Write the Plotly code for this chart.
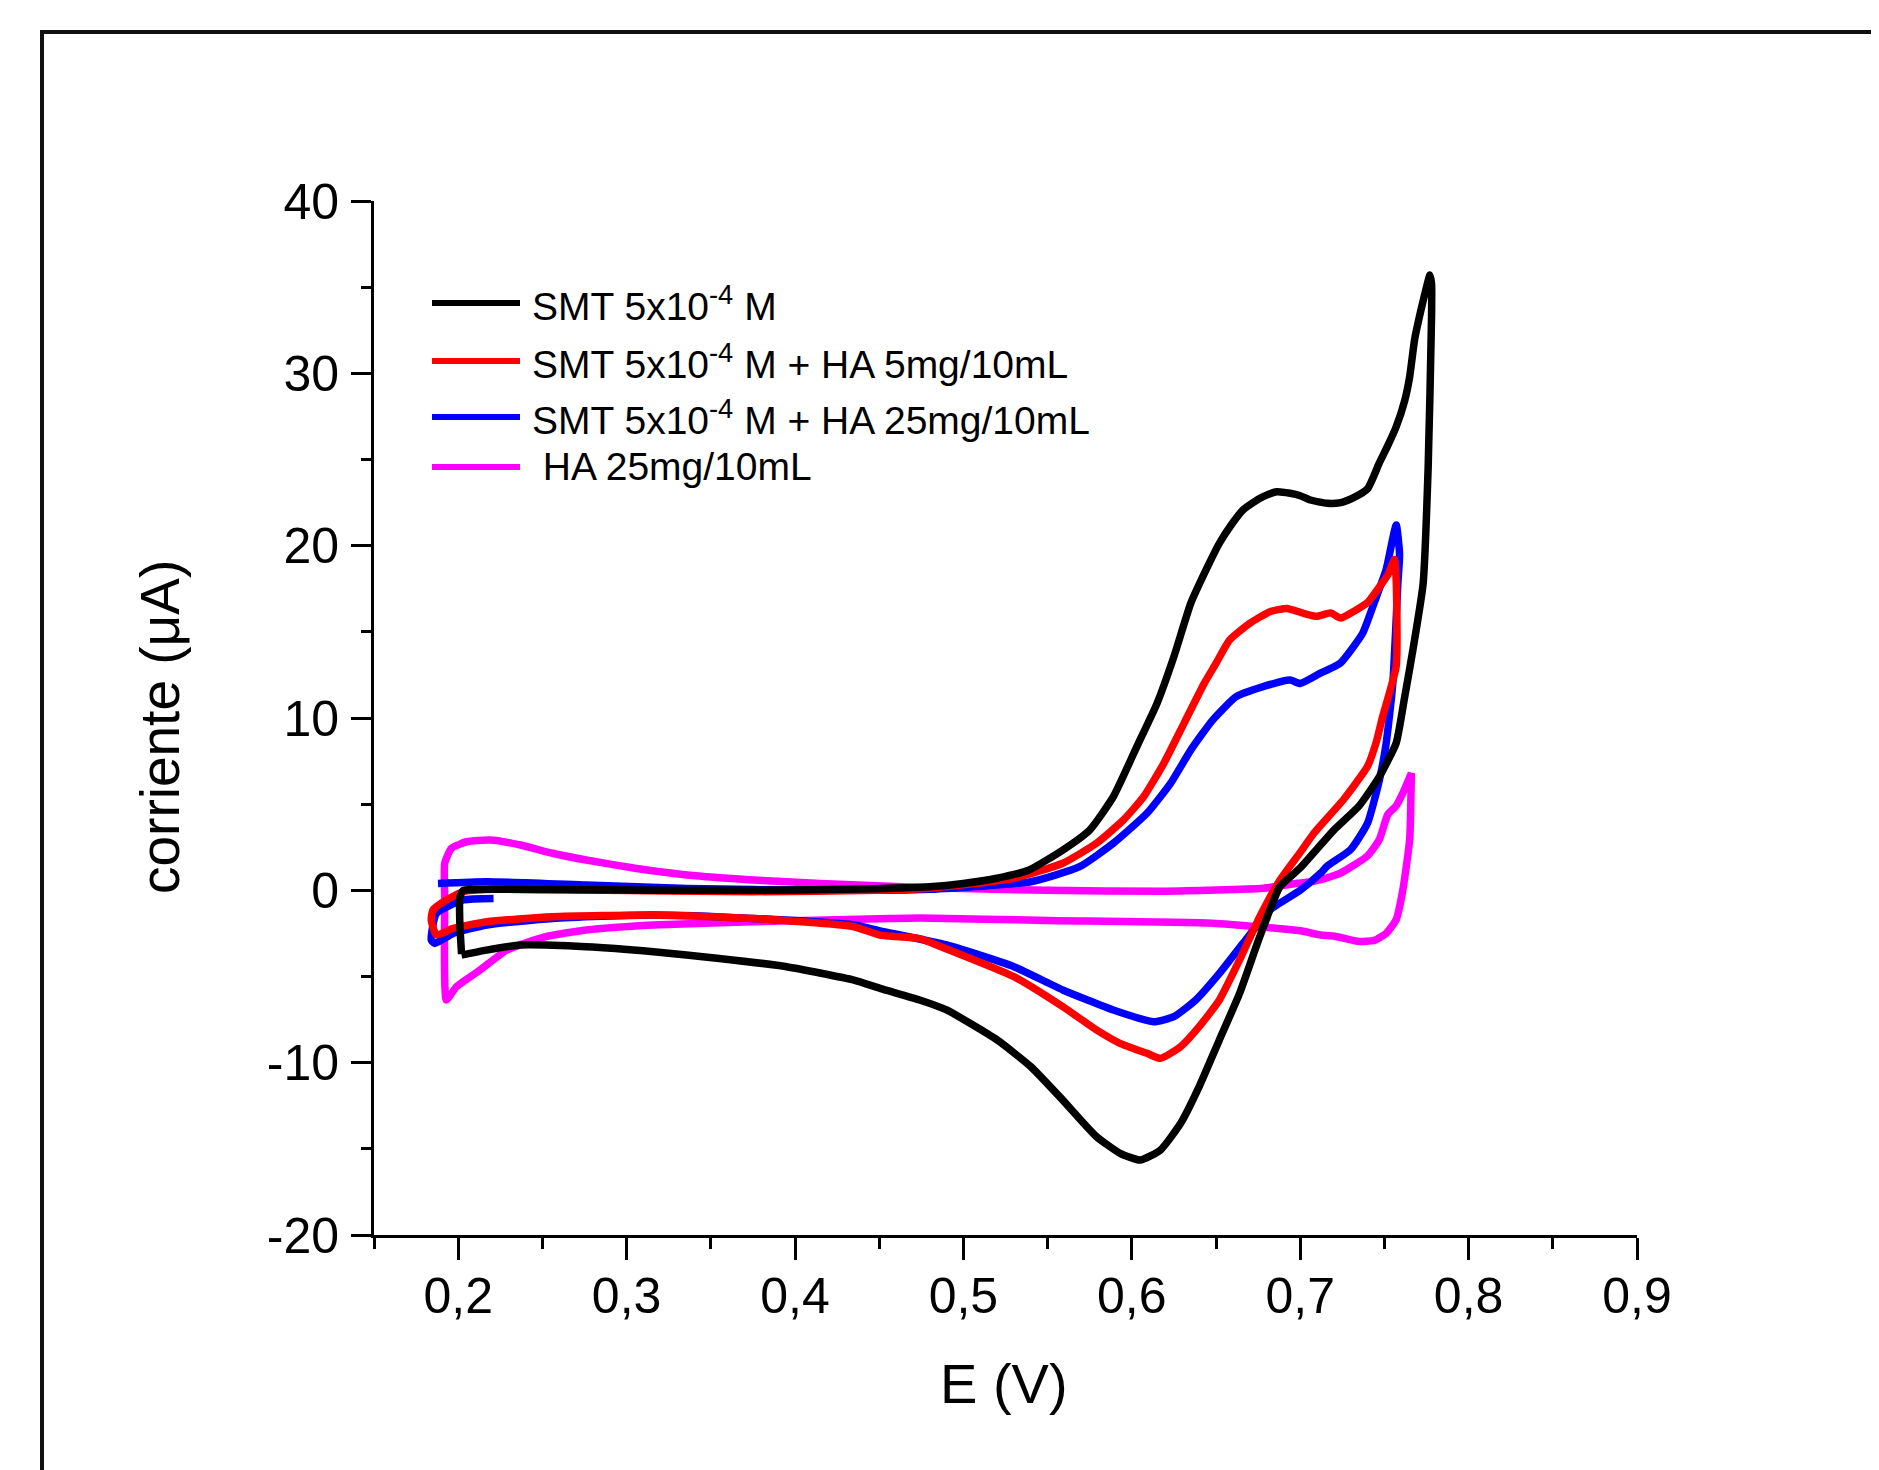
import plotly.graph_objects as go

# ---------------- data ----------------
# SMT 5x10^-4 M  (black)
smt_fwd_E = [0.202, 0.201, 0.201, 0.203, 0.21, 0.25, 0.30, 0.35, 0.40, 0.44, 0.48, 0.50, 0.52, 0.539,
             0.559, 0.575, 0.589, 0.603, 0.615, 0.625, 0.635, 0.645, 0.652, 0.659, 0.666, 0.672, 0.678,
             0.686, 0.694, 0.700, 0.706, 0.716, 0.724, 0.732, 0.740, 0.747, 0.752, 0.757, 0.762, 0.765,
             0.768, 0.772, 0.775, 0.777]
smt_fwd_I = [-3.7, -2.0, -0.4, 0.0, 0.05, 0.05, 0.02, 0.0, 0.02, 0.08, 0.21, 0.4, 0.7, 1.18,
             2.34, 3.5, 5.43, 8.34, 10.85, 13.56, 16.65, 18.78, 20.14, 21.2, 22.07, 22.5, 22.84,
             23.13, 23.04, 22.9, 22.65, 22.46, 22.5, 22.8, 23.3, 24.8, 25.8, 26.9, 28.4, 29.8,
             32.0, 33.8, 35.0, 35.7]
smt_rev_E = [0.778, 0.778, 0.776, 0.773, 0.767, 0.762, 0.757, 0.747, 0.735, 0.720, 0.710, 0.700,
             0.688, 0.676, 0.664, 0.652, 0.640, 0.629, 0.617, 0.605, 0.593, 0.579, 0.559, 0.540,
             0.520, 0.490, 0.474, 0.4505, 0.435, 0.395, 0.355, 0.316, 0.276, 0.237, 0.215, 0.205, 0.202]
smt_rev_I = [35.2, 33.3, 24.6, 17.8, 14.0, 11.2, 8.55, 6.6, 4.9, 3.5, 2.4, 1.3,
             0.21, -2.69, -5.98, -8.68, -11.39, -13.52, -15.07, -15.65, -15.26, -14.29, -12.17, -10.23,
             -8.68, -6.94, -6.36, -5.69, -5.21, -4.43, -3.95, -3.56, -3.27, -3.17, -3.5, -3.7, -3.75]

# SMT 5x10^-4 M + HA 5mg/10mL  (red)
ha5_fwd_E = [0.184, 0.185, 0.193, 0.203, 0.217, 0.276, 0.375, 0.45, 0.480, 0.530, 0.559, 0.579, 0.595,
             0.607, 0.619, 0.631, 0.643, 0.650, 0.658, 0.670, 0.682, 0.692, 0.702, 0.710, 0.718, 0.724,
             0.732, 0.740, 0.747, 0.752, 0.756]
ha5_fwd_I = [-1.72, -1.14, -0.56, -0.08, 0.06, 0.02, -0.08, 0.0, 0.12, 0.70, 1.57, 2.73, 4.08,
             5.43, 7.37, 9.69, 12.01, 13.17, 14.52, 15.49, 16.17, 16.36, 16.07, 15.9, 16.1, 15.8,
             16.2, 16.7, 17.6, 18.3, 19.2]
ha5_rev_E = [0.757, 0.757, 0.749, 0.745, 0.740, 0.726, 0.708, 0.700, 0.688, 0.676, 0.664, 0.652, 0.640,
             0.629, 0.617, 0.609, 0.593, 0.579, 0.559, 0.530, 0.490, 0.474, 0.4505, 0.435, 0.375, 0.316,
             0.256, 0.217, 0.197, 0.187, 0.184]
ha5_rev_I = [18.0, 13.0, 10.1, 8.55, 7.2, 5.3, 3.3, 2.2, 0.6, -1.53, -4.04, -6.36, -7.91,
             -9.07, -9.75, -9.46, -8.88, -8.10, -6.75, -5.01, -3.4, -2.8, -2.6, -2.11, -1.63, -1.43,
             -1.53, -1.82, -2.21, -2.59, -1.72]

# SMT 5x10^-4 M + HA 25mg/10mL  (blue)
ha25_fwd_E = [0.188, 0.217, 0.276, 0.336, 0.415, 0.480, 0.540, 0.569, 0.589, 0.609, 0.623, 0.635, 0.648,
              0.662, 0.678, 0.694, 0.700, 0.712, 0.716, 0.724, 0.737, 0.744, 0.751, 0.757]
ha25_fwd_I = [0.4, 0.5, 0.31, 0.11, 0.0, 0.06, 0.50, 1.37, 2.73, 4.47, 6.21, 8.14, 9.88,
              11.24, 11.82, 12.2, 12.0, 12.6, 12.78, 13.2, 14.9, 16.7, 18.6, 21.2]
ha25_rev_E = [0.759, 0.758, 0.755, 0.751, 0.747, 0.740, 0.730, 0.716, 0.712, 0.700, 0.682, 0.666, 0.652,
              0.638, 0.625, 0.613, 0.589, 0.559, 0.530, 0.490, 0.4505, 0.435, 0.375, 0.316, 0.256,
              0.217, 0.197, 0.186, 0.184, 0.187, 0.203, 0.221]
ha25_rev_I = [19.5, 17.8, 12.0, 8.5, 6.4, 3.9, 2.37, 1.4, 0.99, 0.0, -1.14, -3.08, -4.82,
              -6.36, -7.33, -7.62, -6.94, -5.78, -4.43, -3.17, -2.35, -2.01, -1.63, -1.43, -1.63,
              -2.01, -2.50, -3.08, -2.88, -1.34, -0.56, -0.47]

# HA 25mg/10mL  (magenta)
ha_fwd_E = [0.193, 0.192, 0.192, 0.196, 0.205, 0.219, 0.237, 0.256, 0.276, 0.306, 0.336, 0.375, 0.415,
            0.474, 0.55, 0.62, 0.678, 0.698, 0.708, 0.718, 0.724, 0.740, 0.747, 0.752, 0.757, 0.761, 0.766]
ha_fwd_I = [-6.36, -0.37, 1.57, 2.44, 2.82, 2.92, 2.63, 2.15, 1.76, 1.27, 0.89, 0.60, 0.40,
            0.17, 0.0, -0.05, 0.12, 0.41, 0.52, 0.79, 1.0, 2.0, 2.95, 4.4, 4.9, 5.65, 6.8]
ha_rev_E = [0.766, 0.765, 0.761, 0.757, 0.751, 0.744, 0.734, 0.720, 0.712, 0.700, 0.648, 0.55, 0.474,
            0.45, 0.375, 0.316, 0.276, 0.252, 0.229, 0.213, 0.199, 0.193]
ha_rev_I = [6.8, 2.95, 0.05, -1.7, -2.5, -2.9, -2.96, -2.65, -2.59, -2.35, -1.91, -1.75, -1.6,
            -1.65, -1.82, -2.01, -2.30, -2.69, -3.46, -4.62, -5.59, -6.36]

series_names = ["SMT 5x10<sup>-4</sup> M",
                "SMT 5x10<sup>-4</sup> M + HA 5mg/10mL",
                "SMT 5x10<sup>-4</sup> M + HA 25mg/10mL",
                "\u00a0HA 25mg/10mL"]
series_colors = ["#000000", "#ff0000", "#0000ff", "#ff00ff"]

x_tickvals = [0.2, 0.3, 0.4, 0.5, 0.6, 0.7, 0.8, 0.9]
x_ticktext = ["0,2", "0,3", "0,4", "0,5", "0,6", "0,7", "0,8", "0,9"]
y_tickvals = [-20, -10, 0, 10, 20, 30, 40]
y_ticktext = ["-20", "-10", "0", "10", "20", "30", "40"]

series_E = [smt_fwd_E + smt_rev_E, ha5_fwd_E + ha5_rev_E, ha25_fwd_E + ha25_rev_E, ha_fwd_E + ha_rev_E]
series_I = [smt_fwd_I + smt_rev_I, ha5_fwd_I + ha5_rev_I, ha25_fwd_I + ha25_rev_I, ha_fwd_I + ha_rev_I]

# ---------------- figure ----------------
OFF = 8                       # page body margin of the html page
W, H = 1879, 1470
L, T = 374 - OFF, 201 - OFF   # plot area corners as seen on the page
pw, ph = 1263, 1034
R, B = W - L - pw, H - T - ph


def px_x(p):                  # page pixel -> paper x
    return (p - OFF - L) / pw


def px_y(p):                  # page pixel -> paper y
    return (T + ph - (p - OFF)) / ph


FONT = "Liberation Sans, Arial, sans-serif"

fig = go.Figure()
for E, I, c in reversed(list(zip(series_E, series_I, series_colors))):
    fig.add_trace(go.Scatter(x=E, y=I, mode="lines",
                             line=dict(color=c, width=7.5, shape="spline", smoothing=0.5),
                             showlegend=False, hoverinfo="skip"))

shapes = []
annotations = []
# outer frame (top and left edge visible)
shapes.append(dict(type="line", xref="paper", yref="paper", x0=px_x(40), x1=px_x(W + 20),
                   y0=px_y(32), y1=px_y(32), line=dict(color="#111111", width=4)))
shapes.append(dict(type="line", xref="paper", yref="paper", x0=px_x(42), x1=px_x(42),
                   y0=px_y(30), y1=px_y(H + 20), line=dict(color="#111111", width=4)))

# manual legend
legend_rows = [303, 361, 417, 467]
for name, col, ry in zip(series_names, series_colors, legend_rows):
    shapes.append(dict(type="line", xref="paper", yref="paper", x0=px_x(432), x1=px_x(520),
                       y0=px_y(ry), y1=px_y(ry), line=dict(color=col, width=6)))
    annotations.append(dict(xref="paper", yref="paper", x=px_x(530), y=px_y(ry), text=name,
                            showarrow=False, xanchor="left", yanchor="middle",
                            font=dict(family=FONT, size=39, color="black")))

# axis titles
annotations.append(dict(xref="paper", yref="paper", x=px_x(1004), y=px_y(1383), text="E (V)",
                        showarrow=False, xanchor="center", yanchor="middle",
                        font=dict(family=FONT, size=56, color="black")))
annotations.append(dict(xref="paper", yref="paper", x=px_x(160), y=px_y(727), text="corriente (\u03bcA)",
                        showarrow=False, xanchor="center", yanchor="middle", textangle=-90,
                        font=dict(family=FONT, size=55, color="black")))

fig.update_layout(
    width=W, height=H,
    margin=dict(l=L, r=R, t=T, b=B),
    paper_bgcolor="white", plot_bgcolor="white",
    shapes=shapes, annotations=annotations,
    showlegend=False,
    font=dict(family=FONT, color="black"),
)
fig.update_xaxes(range=[0.15, 0.9], showgrid=False, zeroline=False,
                 showline=True, linecolor="black", linewidth=3,
                 ticks="outside", ticklen=22, tickwidth=3, tickcolor="black",
                 tickvals=x_tickvals, ticktext=x_ticktext, ticklabelstandoff=-7,
                 tickfont=dict(family=FONT, size=50, color="black"),
                 minor=dict(tickvals=[0.15, 0.25, 0.35, 0.45, 0.55, 0.65, 0.75, 0.85],
                            ticks="outside", ticklen=11, tickwidth=3, tickcolor="black"))
fig.update_yaxes(range=[-20, 40], showgrid=False, zeroline=False,
                 showline=True, linecolor="black", linewidth=3,
                 ticks="outside", ticklen=20, tickwidth=3, tickcolor="black",
                 tickvals=y_tickvals, ticktext=y_ticktext, ticklabelstandoff=2,
                 tickfont=dict(family=FONT, size=50, color="black"),
                 minor=dict(tickvals=[-15, -5, 5, 15, 25, 35],
                            ticks="outside", ticklen=10, tickwidth=3, tickcolor="black"))

fig.write_html("out.html")
